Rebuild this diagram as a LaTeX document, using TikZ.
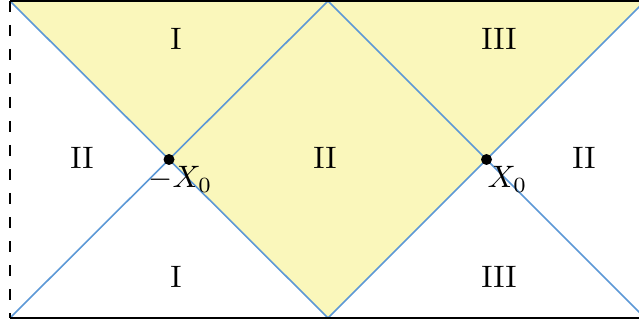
\documentclass[tikz,border=0pt]{standalone}
\definecolor{fillY}{RGB}{250,247,187}
\definecolor{lineB}{RGB}{92,152,214}
\begin{document}
\begin{tikzpicture}[x=1pt,y=1pt,
  lbl/.style={font=\fontsize{10}{12}\selectfont, inner sep=0pt, scale=3.1},
  nl/.style={lineB, line width=1.6pt},
  bl/.style={black, line width=1.9pt},
  dot/.style={circle, fill=black, inner sep=0pt, minimum size=11pt}]
\useasboundingbox (0,0) rectangle (639,324);
% corners
\coordinate (TL) at (10,323);
\coordinate (BL) at (10,6);
\coordinate (TM) at (328,323);
\coordinate (BM) at (328,6);
\coordinate (TR) at (645,323);
\coordinate (BR) at (645,6);
\coordinate (XL) at (169,164.5);
\coordinate (XR) at (486.5,164.5);
\coordinate (RT) at (639,323);
\coordinate (RB) at (639,6);
\begin{scope}
\clip (10,0) rectangle (639,324);
\fill[fillY] (TL) -- (TM) -- (XL) -- cycle;
\fill[fillY] (XL) -- (TM) -- (XR) -- (BM) -- cycle;
\fill[fillY] (TM) -- (TR) -- (XR) -- cycle;
\draw[nl] (TL) -- (BM);
\draw[nl] (BL) -- (TM);
\draw[nl] (TM) -- (BR);
\draw[nl] (BM) -- (TR);
\end{scope}
\draw[bl] (TL) -- (RT);
\draw[bl] (BL) -- (RB);
\draw[bl, dash pattern=on 11pt off 13pt] (TL) -- (BL);
\node[dot] (pL) at (XL) {};
\node[dot] (pR) at (XR) {};
\node[lbl, anchor=north west] (lXL) at (148,158) {$-X_0$};
\node[lbl, anchor=north west] (lXR) at (487,158) {$X_0$};
\node[lbl] (a1) at (176,285) {I};
\node[lbl] (a2) at (499,285) {III};
\node[lbl] (a3) at (82,166) {II};
\node[lbl] (a4) at (325,166) {II};
\node[lbl] (a5) at (584,166) {II};
\node[lbl] (a6) at (176,47) {I};
\node[lbl] (a7) at (499,47) {III};
\end{tikzpicture}
\end{document}
